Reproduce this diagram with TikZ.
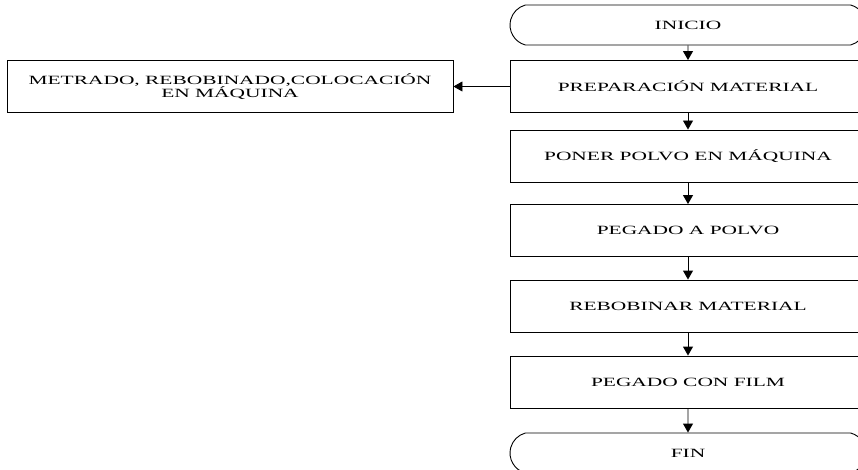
\documentclass[tikz,border=0pt]{standalone}
\usepackage{fontspec}
\setmainfont[FakeStretch=1.7]{Liberation Serif}
\usetikzlibrary{arrows.meta,shapes.misc}
\tikzset{
    every node/.style={draw, line width=0.9pt, align=center, inner sep=0pt, font=\fontsize{12.6}{13}\selectfont}
}
\tikzset{proc/.style={rectangle, minimum width=356pt, minimum height=52pt}}
\tikzset{term/.style={rounded rectangle, rounded rectangle arc length=150, minimum width=356pt, minimum height=40pt}}
\tikzset{flow/.style={-{Triangle[width=10pt,length=9pt]}, line width=0.9pt}}

\begin{document}
\begin{tikzpicture}[x=1pt, y=-1pt]
    \useasboundingbox (0,0) rectangle (858,470);
    \clip (0,0) rectangle (858,470);

    \node (t1) [term] at (688, 25) {INICIO};
    \node (p1) [proc] at (688, 86.5) {PREPARACIÓN MATERIAL};
    \node (p2) [proc] at (688, 156) {PONER POLVO EN MÁQUINA};
    \node (p3) [proc] at (688, 230.5) {PEGADO A POLVO};
    \node (p4) [proc] at (688, 306) {REBOBINAR MATERIAL};
    \node (p5) [proc] at (688, 382) {PEGADO CON FILM};
    \node (t2) [term] at (688, 453) {FIN};

    \node (m1) [proc, minimum width=446pt] at (230, 86.5) {METRADO, REBOBINADO,COLOCACIÓN\\EN MÁQUINA};

    \draw[flow] (t1) edge (p1);
    \draw[flow] (p1) edge (p2);
    \draw[flow] (p2) edge (p3);
    \draw[flow] (p3) edge (p4);
    \draw[flow] (p4) edge (p5);
    \draw[flow] (p5) edge (t2);
    \draw[flow] (p1) edge (m1);
\end{tikzpicture}
\end{document}
